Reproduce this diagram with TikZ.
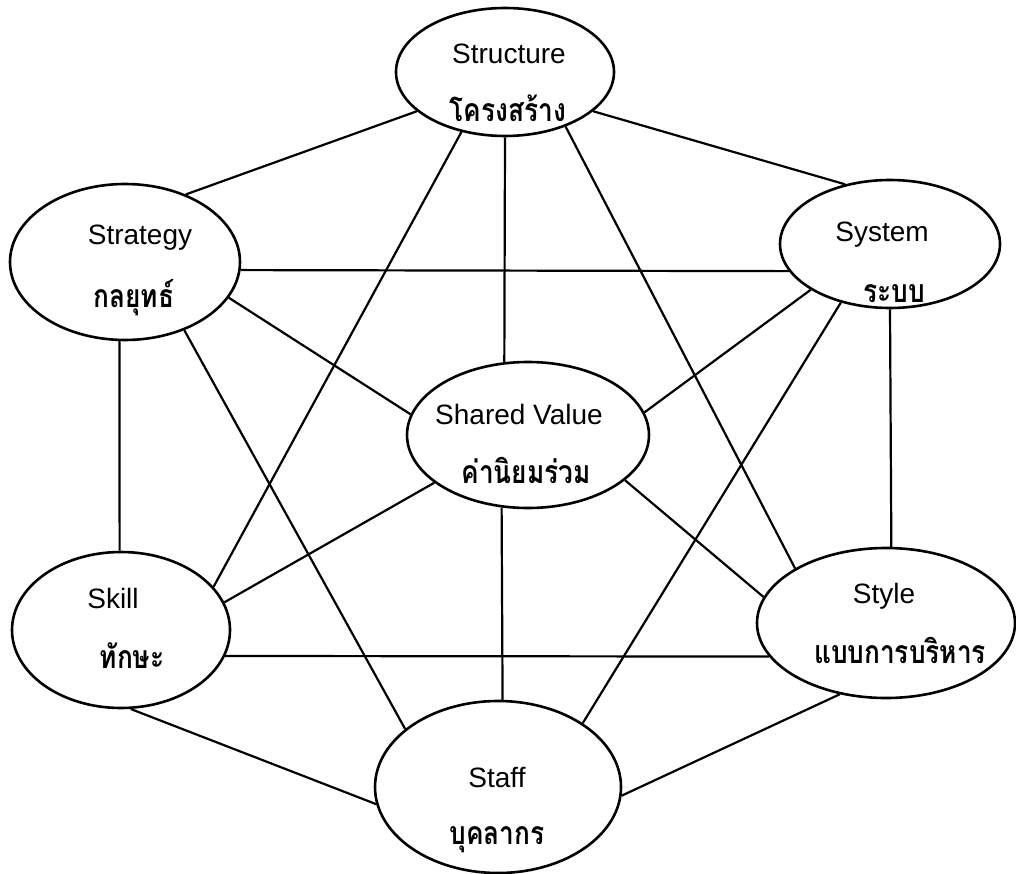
\documentclass[tikz,border=0pt]{standalone}
\usepackage{fontspec}
\setmainfont{Liberation Sans}
\newfontfamily\thaifont[Script=Thai, FakeStretch=0.82]{Loma}
\usetikzlibrary{shapes.geometric}

\tikzset{
  oval/.style={draw, ellipse, line width=2.6pt, inner sep=0pt},
  en/.style={anchor=base, inner sep=0pt, font=\fontsize{28}{30}\selectfont},
  th/.style={anchor=base, inner sep=0pt, font=\thaifont\bfseries\fontsize{32}{34}\selectfont},
  link/.style={line width=2.2pt}
}

\begin{document}
\begin{tikzpicture}[x=1pt, y=-1pt]
\useasboundingbox (0,0) rectangle (1016,874);

% the seven elements
\node[oval, minimum width=218pt, minimum height=128pt] (structure) at (505,72) {};
\node[oval, minimum width=230pt, minimum height=156pt] (strategy) at (125,262) {};
\node[oval, minimum width=220pt, minimum height=128pt] (system) at (890,244) {};
\node[oval, minimum width=242pt, minimum height=146pt] (shared) at (528,435) {};
\node[oval, minimum width=218pt, minimum height=156pt] (skill) at (121,630) {};
\node[oval, minimum width=258pt, minimum height=150pt] (style) at (886,623) {};
\node[oval, minimum width=246pt, minimum height=172pt] (staff) at (498,787) {};

% labels
\node[en] (structureEn) at (509,64) {Structure};
\node[th] (structureTh) at (508,122) {โครงสร้าง};
\node[en] (strategyEn) at (140,245) {Strategy};
\node[th] (strategyTh) at (134,308) {กลยุทธ์};
\node[en] (systemEn) at (882,242) {System};
\node[th] (systemTh) at (894,302) {ระบบ};
\node[en] (sharedEn) at (519,424) {Shared Value};
\node[th] (sharedTh) at (526,483) {ค่านิยมร่วม};
\node[en] (skillEn) at (113,608) {Skill};
\node[th] (skillTh) at (132,668) {ทักษะ};
\node[en] (styleEn) at (884,603) {Style};
\node[th] (styleTh) at (900,663) {แบบการบริหาร};
\node[en] (staffEn) at (497,787) {Staff};
\node[th] (staffTh) at (497,844) {บุคลากร};

% connections between every pair
\draw[link] (structure.204) -- (strategy.48);
\draw[link] (structure.-24) -- (system.127);
\draw[link] (structure.234) -- (skill.25);
\draw[link] (structure.-90) -- (shared.108);
\draw[link] (structure.-42) -- (style.149);
\draw[link] (strategy.-4.5) -- (system.195);
\draw[link] (strategy.-19) -- (shared.170);
\draw[link] (strategy.-94) -- (skill.91.5);
\draw[link] (strategy.-49) -- (staff.148);
\draw[link] (system.210) -- (shared.11);
\draw[link] (system.-90) -- (style.86);
\draw[link] (system.230) -- (staff.37);
\draw[link] (shared.207) -- (skill.15);
\draw[link] (shared.250.6) -- (staff.87);
\draw[link] (shared.-25) -- (style.168);
\draw[link] (skill.-14) -- (style.196);
\draw[link] (skill.-83) -- (staff.188);
\draw[link] (style.237) -- (staff.-4);
\end{tikzpicture}
\end{document}
